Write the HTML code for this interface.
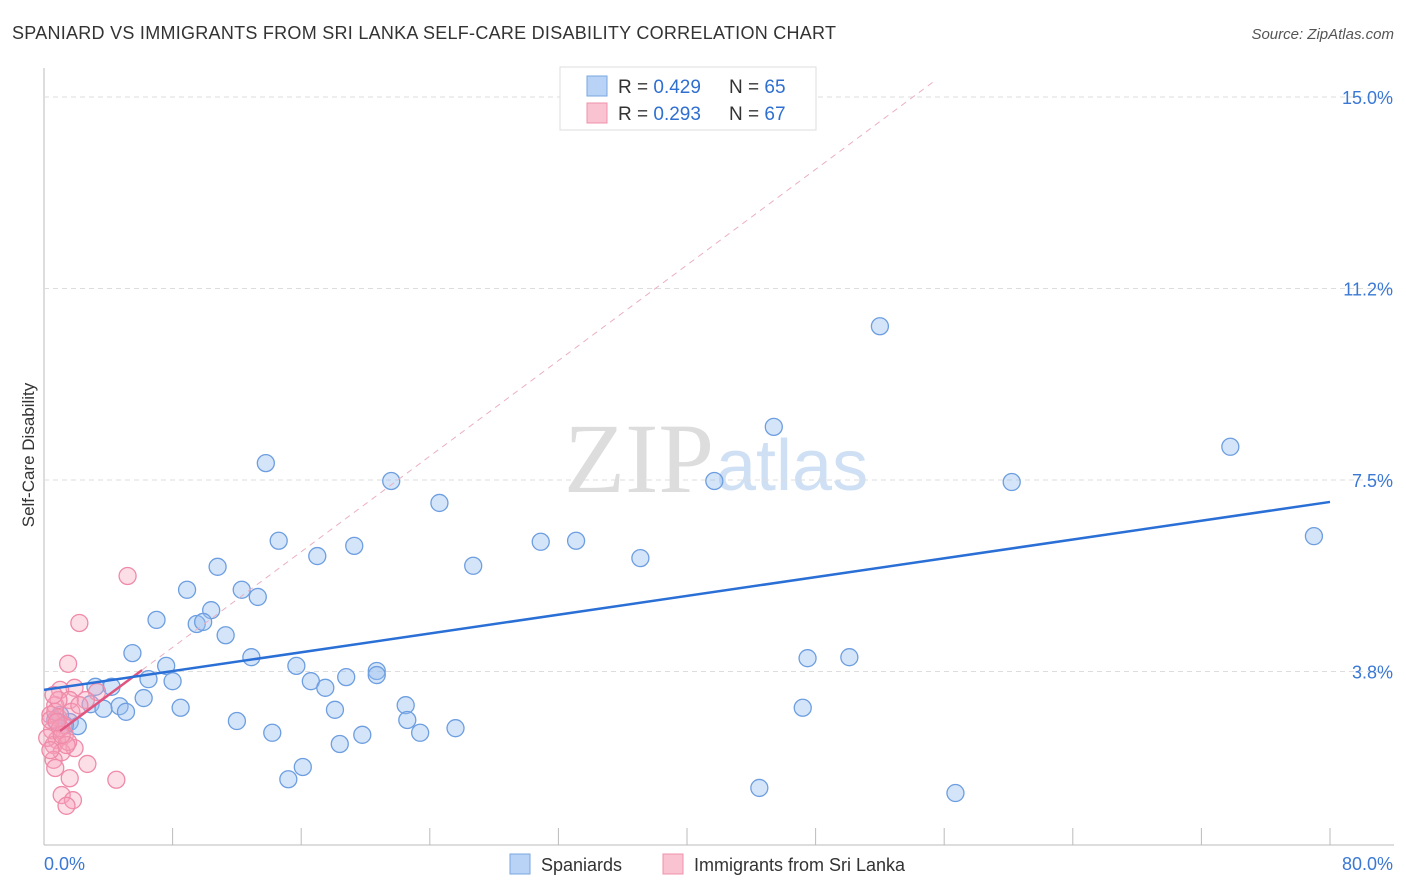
<!DOCTYPE html>
<html><head><meta charset="utf-8"><style>
body{margin:0;background:#fff;font-family:"Liberation Sans",sans-serif;}
svg{display:block}
</style></head><body>
<svg id="c" width="1406" height="892">
<text x="12" y="39" font-size="18" fill="#333" textLength="824">SPANIARD VS IMMIGRANTS FROM SRI LANKA SELF-CARE DISABILITY CORRELATION CHART</text>
<text x="1394" y="39" font-size="15" fill="#555" font-style="italic" text-anchor="end">Source: ZipAtlas.com</text>
<text x="714" y="492" font-size="100" fill="#ddd" text-anchor="end" font-family="Liberation Serif,serif">ZIP</text>
<text x="716" y="490" font-size="72" fill="#cfe0f5">atlas</text>
<g id="grid"></g><g id="marks"></g>
<text x="34" y="455" font-size="17" fill="#333" text-anchor="middle" transform="rotate(-90 34 455)">Self-Care Disability</text>
<g>
<rect x="560" y="67" width="256" height="63" fill="#fff" stroke="#ddd"/>
<rect x="587" y="76" width="20" height="20" fill="#b8d3f5" stroke="#7aa7e0"/>
<rect x="587" y="103" width="20" height="20" fill="#f9c3d2" stroke="#f090ab"/>
<text x="618" y="93" font-size="19" fill="#333">R = <tspan fill="#2f6fd0">0.429</tspan></text>
<text x="729" y="93" font-size="19" fill="#333">N = <tspan fill="#2f6fd0">65</tspan></text>
<text x="618" y="120" font-size="19" fill="#333">R = <tspan fill="#2f6fd0">0.293</tspan></text>
<text x="729" y="120" font-size="19" fill="#333">N = <tspan fill="#2f6fd0">67</tspan></text>
</g>
<g>
<rect x="510" y="854" width="20" height="20" fill="#b8d3f5" stroke="#7aa7e0"/>
<text x="541" y="871" font-size="18" fill="#333">Spaniards</text>
<rect x="663" y="854" width="20" height="20" fill="#f9c3d2" stroke="#f090ab"/>
<text x="694" y="871" font-size="18" fill="#333">Immigrants from Sri Lanka</text>
</g>
</svg>
<script>
const yTicks=[15,11.25,7.5,3.75];
const yTickLabels=["15.0%","11.2%","7.5%","3.8%"];
const xTickLabels=["0.0%","80.0%"];
const blueX=[13.8,52.0,45.4,73.8,41.7,60.2,21.6,24.6,79.0,14.6,30.9,33.1,19.3,37.1,17.0,26.7,10.8,8.9,12.3,13.3,7.0,10.4,9.5,9.9,11.3,5.5,12.9,47.5,50.1,7.6,15.7,20.7,20.7,6.5,8.0,16.6,18.8,17.5,3.2,4.2,6.2,2.9,4.7,3.7,5.1,8.5,18.1,22.5,12.0,22.6,47.2,1.6,2.1,25.6,14.2,23.4,19.8,18.4,16.1,15.2,44.5,56.7,1.0,0.7,1.3];
const blueY=[7.83,10.51,8.54,8.15,7.48,7.46,7.48,7.05,6.40,6.31,6.29,6.31,6.21,5.97,6.01,5.82,5.80,5.35,5.35,5.21,4.76,4.95,4.68,4.72,4.46,4.11,4.03,4.01,4.03,3.86,3.86,3.76,3.68,3.60,3.56,3.56,3.64,3.43,3.45,3.45,3.23,3.11,3.07,3.02,2.96,3.04,3.00,3.09,2.78,2.80,3.04,2.76,2.68,2.64,2.55,2.55,2.51,2.33,1.88,1.64,1.47,1.37,2.90,2.80,2.70];
const pinkX=[5.2,2.2,1.5,1.9,1.0,3.3,2.6,1.6,0.7,0.4,0.9,1.2,0.5,1.3,0.8,0.6,1.9,1.1,0.6,2.7,0.7,1.6,4.5,1.1,1.8,1.4,0.4,0.7,1.0,1.5,0.2,1.7,2.2,0.9,0.6,1.4,1.1,0.4,0.8];
const pinkY=[5.62,4.70,3.90,3.43,3.39,3.35,3.19,3.19,3.09,2.90,2.84,2.70,2.60,2.51,2.41,2.31,2.25,2.17,2.02,1.94,1.86,1.66,1.63,1.33,1.23,1.12,2.80,2.96,2.64,2.37,2.45,2.96,3.09,3.19,3.29,2.31,2.51,2.21,2.76];
const blueFit=[3.39,7.07];
const pinkFit=[2.35,0.234];
const NS="http://www.w3.org/2000/svg";
const sx=v=>44+v*16.075, sy=v=>863-v*51.07;
function mk(p,t,a){const e=document.createElementNS(NS,t);for(const k in a)e.setAttribute(k,a[k]);p.appendChild(e);return e;}
const g=document.getElementById('grid'),m=document.getElementById('marks');
let e=mk(g,'line',{x1:44,x2:44,y1:68,y2:845,stroke:'#bbb'});


e=mk(g,'line',{x1:44,x2:1394,y1:845,y2:845,stroke:'#bbb'});


for(let i=0;i<=10;i++){e=mk(g,'line',{x1:sx(i*8),x2:sx(i*8),y1:828,y2:845,stroke:'#bbb'});

}
yTicks.forEach((t,i)=>{e=mk(g,'line',{x1:44,x2:1394,y1:sy(t),y2:sy(t),stroke:'#ddd','stroke-dasharray':'5,4'});


e=mk(g,'text',{x:1393,y:sy(t)+7,'font-size':18,fill:'#3a78d4','text-anchor':'end'});e.textContent=yTickLabels[i];

});
e=mk(g,'text',{x:44,y:870,'font-size':18,fill:'#3a78d4'});e.textContent=xTickLabels[0];


e=mk(g,'text',{x:1393,y:870,'font-size':18,fill:'#3a78d4','text-anchor':'end'});e.textContent=xTickLabels[1];


blueX.forEach((x,i)=>{e=mk(m,'circle',{cx:sx(x),cy:sy(blueY[i]),r:8.5,fill:'rgba(150,190,240,0.4)',stroke:'#6d9ee0','stroke-width':1.3});

});
pinkX.forEach((x,i)=>{e=mk(m,'circle',{cx:sx(x),cy:sy(pinkY[i]),r:8.5,fill:'rgba(245,160,185,0.35)',stroke:'#ef8aa8','stroke-width':1.3});

});
const pf=x=>pinkFit[0]+pinkFit[1]*x;
e=mk(m,'line',{x1:sx(6.1),y1:sy(pf(6.1)),x2:sx(55.4),y2:sy(pf(55.4)),stroke:'#eab0c0','stroke-width':1,'stroke-dasharray':'6,5'});


e=mk(m,'line',{x1:sx(1),y1:sy(pf(1)),x2:sx(6.1),y2:sy(pf(6.1)),stroke:'#e0557f','stroke-width':2.5});


e=mk(m,'line',{x1:sx(0),y1:sy(blueFit[0]),x2:sx(80),y2:sy(blueFit[1]),stroke:'#2a6fd6','stroke-width':2.5});


</script>
</body></html>
